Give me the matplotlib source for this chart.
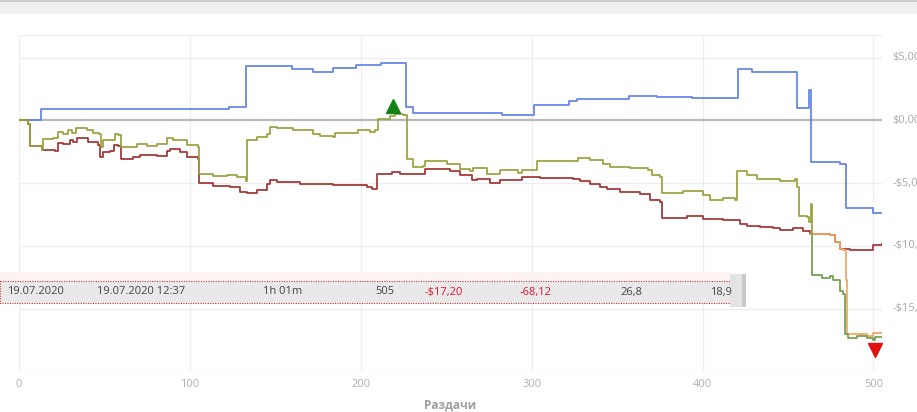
import matplotlib
matplotlib.use("Agg")
import matplotlib.pyplot as plt
from matplotlib.patches import Rectangle

plt.rcParams['font.family'] = ['Open Sans', 'DejaVu Sans']

# balance curves (trade number, dollars)
blue_x = [0, 13, 123, 133, 160, 172, 184, 197, 212, 225, 226.4, 230.5, 282.6, 301.3, 321.8,
          326.5, 357, 373.3, 393.8, 421, 429, 455.2, 462, 463.4, 480.4, 482.5, 483.9, 499, 500, 505]
blue_y = [0, 0.9, 1.05, 4.3, 4.1, 3.85, 4.2, 4.45, 4.6, 4.6, 1.1, 0.6, 0.45, 1.25, 1.55,
          1.68, 1.95, 1.9, 1.8, 4.1, 3.85, 1.0, 2.45, -3.3, -3.45, -3.45, -7.0, -7.0, -7.4, -7.4]

olive_x = [0, 5.4, 6.4, 13.3, 14.2, 20.1, 23.0, 25.9, 28.8, 30.8, 33.4, 39.6, 43.1, 47.0, 47.8, 49.3, 55.2,
           56.2, 58.1, 59.5, 68.9, 74.7, 80.6, 86.4, 90.3, 98.1, 104.9, 105.5, 113.7, 121.5, 127.4, 132.7,
           133.6, 139.1, 144.9, 146.9, 150.8, 160.5, 172.2, 176.1, 183.9, 184.9, 195.6, 198.5, 205.4, 208.3,
           210.2, 217.1, 220.0, 224.9, 226.9, 230.7, 236.6, 237.6, 244.4, 250.3, 258.0, 263.9, 265.8, 273.7,
           281.5, 292.2, 294.1, 301.9, 302.9, 321.4, 327.3, 334.1, 341.9, 345.8, 357.5, 368.2, 370.2, 375.1,
           376.1, 388.7, 400.4, 404.3, 412.1, 419.0, 420.0, 425.8, 431.7, 441.4, 445.3, 454.1, 455.1, 456.6,
           460.9, 462.4, 463.2, 463.8]
olive_y = [0, -0.26, -2.05, -2.39, -1.46, -1.41, -0.93, -1.06, -0.80, -0.98, -0.58, -0.74, -1.01, -1.06, -2.13,
           -1.59, -1.59, -1.06, -1.14, -2.13, -1.86, -2.05, -1.86, -1.38, -1.54, -1.99, -2.13, -4.25, -4.44,
           -4.36, -4.52, -4.84, -1.59, -1.33, -1.06, -0.53, -0.58, -0.80, -1.06, -1.27, -1.33, -1.01, -1.01,
           -0.74, -0.93, -0.80, 0.14, 0.32, 0.53, 0.40, -3.05, -3.72, -3.67, -3.24, -3.27, -3.45, -3.85, -4.04,
           -3.80, -4.25, -3.98, -4.20, -3.98, -3.93, -3.24, -3.24, -2.97, -3.19, -3.45, -3.72, -3.80, -3.93,
           -4.38, -4.52, -5.79, -5.66, -5.98, -6.32, -6.19, -6.37, -4.04, -4.33, -4.70, -4.70, -4.84, -4.65,
           -5.31, -7.65, -7.71, -8.10, -6.69, -9.03]

green_x = [463.8, 464.2, 469.7, 474.5, 476.1, 480.4, 482.0, 483.3, 485.3, 490.2, 496.0, 499.9, 500.9, 505]
green_y = [-9.03, -12.35, -12.53, -12.43, -12.75, -13.55, -13.81, -17.00, -17.31, -17.21, -17.31, -17.47, -17.27, -17.27]

red_x = [0, 5.4, 6.4, 13.3, 21.1, 23.0, 25.9, 29.8, 31.8, 34.1, 40.5, 46.4, 47.4, 49.3, 53.2, 55.6, 58.1, 59.5,
         66.9, 70.8, 80.6, 86.4, 88.4, 94.2, 98.1, 104.9, 105.5, 113.7, 123.5, 129.3, 133.2, 139.1, 144.9, 146.9,
         150.8, 164.4, 183.9, 203.5, 206.4, 209.3, 218.1, 222.9, 236.6, 237.6, 244.4, 252.2, 258.0, 264.9, 267.8,
         275.6, 280.5, 281.5, 292.2, 294.1, 304.9, 324.3, 328.3, 334.1, 340.0, 343.9, 351.7, 363.4, 369.2, 375.1,
         376.1, 386.8, 390.7, 400.4, 412.1, 421.9, 425.8, 433.6, 441.4, 445.3, 453.1, 458.9, 462.8, 464.8, 474.5,
         477.4, 480.4, 486.2, 492.1, 497.9, 499.9, 505]
red_y = [0, -0.26, -2.05, -2.39, -2.45, -1.81, -1.91, -1.59, -1.73, -1.43, -1.73, -1.94, -2.92, -2.53, -2.45, -1.99,
         -2.07, -3.05, -2.92, -2.79, -2.87, -2.47, -2.31, -2.53, -2.92, -3.05, -5.0, -5.24, -5.31, -5.71, -5.79,
         -5.58, -5.04, -4.78, -4.92, -5.04, -5.18, -5.31, -5.44, -4.30, -4.12, -4.25, -4.25, -3.85, -3.85, -4.04,
         -4.38, -4.73, -4.65, -5.0, -5.0, -4.73, -4.78, -4.52, -4.60, -4.65, -4.84, -5.04, -5.31, -5.44, -5.71,
         -5.90, -6.37, -6.51, -7.78, -7.78, -7.65, -7.83, -7.97, -8.23, -8.45, -8.50, -8.58, -8.71, -8.58, -8.82,
         -9.03, -9.08, -9.16, -9.70, -10.22, -10.36, -10.30, -10.36, -9.96, -9.88]

orange_x = [462.8, 464.8, 474.5, 477.4, 480.4, 482.3, 483.9, 484.7, 488.2, 496.0, 499.9, 505]
orange_y = [-9.03, -9.08, -9.16, -9.70, -10.22, -10.36, -12.75, -16.99, -17.05, -17.15, -16.95, -16.95]

max_mark = (219, 1.15)
min_mark = (501, -18.25)

y_ticks = [5, 0, -5, -10, -15]
y_labels = ['$5,00', '$0,00', '-$5,00', '-$10,00', '-$15,00']
x_ticks = [0, 100, 200, 300, 400, 500]

row_texts = ['19.07.2020', '19.07.2020 12:37', '1h 01m', '505', '-$17,20', '-68,12', '26,8', '18,9']

W, H = 917, 412
fig = plt.figure(figsize=(W / 100, H / 100), dpi=100)
fig.patch.set_facecolor('white')

ax = fig.add_axes([19 / W, (H - 371.5) / H, 863 / W, 336.5 / H])
ax.set_xlim(0, 505)
ax.set_ylim(-20, 6.8)
for s in ax.spines.values():
    s.set_visible(False)
ax.tick_params(left=False, bottom=False, labelleft=False, labelbottom=False)

for v in [5, -5, -10, -15, -20, 6.8]:
    ax.axhline(v, color='#ededed', lw=0.9, zorder=0)
for t in x_ticks:
    ax.axvline(t, color='#ededed', lw=0.9, zorder=0)
ax.axhline(0, color='#b8b8b8', lw=1.6, zorder=1)

st = dict(lw=1.25, drawstyle='steps-post')
ax.plot(blue_x, blue_y, color='#5f83e6', zorder=3, **st)
ax.plot(red_x, red_y, color='#a23232', zorder=3, **st)
ax.plot(olive_x, olive_y, color='#9aa03c', zorder=4, **st)
ax.plot(orange_x, orange_y, color='#f3a35e', zorder=5, **st)
ax.plot(green_x, green_y, color='#6fa04e', zorder=5, **st)

ax.plot(*max_mark, marker='^', color='#128212', markersize=10.5, zorder=6)
ax.plot(*min_mark, marker='v', color='#e41010', markersize=10.5, zorder=6)

for t in x_ticks:
    ax.text(t, -20.6, str(t), ha='center', va='top', fontsize=8, color='#b0b0b0')
for v, lab in zip(y_ticks, y_labels):
    ax.text(1.012, (v + 20) / 26.8, lab, transform=ax.transAxes, ha='left', va='center',
            fontsize=8, color='#a8a8a8', clip_on=False)

# overlay layer in pixel coordinates
ov = fig.add_axes([0, 0, 1, 1], zorder=10)
ov.set_xlim(0, W)
ov.set_ylim(H, 0)
ov.axis('off')
ov.patch.set_alpha(0)

ov.add_patch(Rectangle((0, 0), W, 14, facecolor='#f0f0f0', edgecolor='none'))
ov.add_patch(Rectangle((0, 0), W, 1.5, facecolor='#cccccc', edgecolor='none'))

ov.add_patch(Rectangle((0, 272), 730, 9, facecolor='#fdf3f0', edgecolor='none'))
ov.add_patch(Rectangle((0, 281), 730, 22, facecolor='#e9e9e9', edgecolor='#c03a3a',
                       lw=0.8, linestyle=(0, (1, 1.2))))
ov.add_patch(Rectangle((730, 274), 16, 33, facecolor='#e4e4e4', edgecolor='none'))
ov.add_patch(Rectangle((742, 274), 4, 33, facecolor='#c8c8c8', edgecolor='none'))

row_x = [7, 97, 263, 375, 425, 520, 620, 732]
row_ha = ['left', 'left', 'left', 'left', 'left', 'left', 'left', 'right']
row_col = ['#444444'] * 4 + ['#e0142c', '#e0142c'] + ['#444444'] * 2
for x, txt, ha, c in zip(row_x, row_texts, row_ha, row_col):
    ov.text(x, 292, txt, ha=ha, va='center', fontsize=8, color=c)

ov.text(450, 405, 'Раздачи', ha='center', va='center', fontsize=8.5, color='#a0a0a0',
        fontweight='bold')

fig.savefig('out.png', dpi=100)
